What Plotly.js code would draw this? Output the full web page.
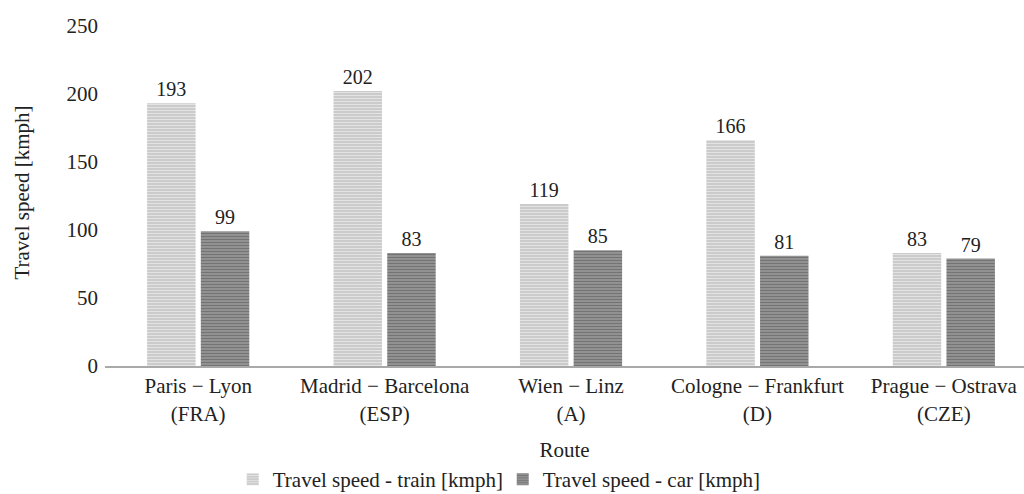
<!DOCTYPE html>
<html>
<head>
<meta charset="utf-8">
<script src="https://cdn.plot.ly/plotly-3.0.1.min.js"></script>
<style>html,body{margin:0;padding:0;background:#fff;}#chart{width:1024px;height:494px;}</style>
</head>
<body>
<div id="chart"></div>
<script>
const routes = ["Paris − Lyon<br>(FRA)", "Madrid − Barcelona<br>(ESP)", "Wien − Linz<br>(A)", "Cologne − Frankfurt<br>(D)", "Prague − Ostrava<br>(CZE)"];
const trainSpeed = [193, 202, 119, 166, 83];
const carSpeed = [99, 83, 85, 81, 79];
const seriesNames = ["Travel speed - train [kmph]", "Travel speed - car [kmph]"];
const yTicks = [0, 50, 100, 150, 200, 250];

const FONT = "'Liberation Serif', 'Times New Roman', serif";
const TXT = "#222";

const traces = [
  {
    type: "bar", x: routes, y: trainSpeed, name: seriesNames[0],
    text: trainSpeed.map(String), textposition: "outside", cliponaxis: false,
    textfont: {family: FONT, size: 20, color: TXT},
    marker: {color: "#c9c9c9", line: {width: 0},
      pattern: {shape: "-", size: 3, solidity: 0.4, fgcolor: "#e3e3e3", bgcolor: "#c9c9c9", fillmode: "replace"}},
    hoverinfo: "none"
  },
  {
    type: "bar", x: routes, y: carSpeed, name: seriesNames[1],
    text: carSpeed.map(String), textposition: "outside", cliponaxis: false,
    textfont: {family: FONT, size: 20, color: TXT},
    marker: {color: "#949494", line: {width: 0},
      pattern: {shape: "-", size: 3, solidity: 0.4, fgcolor: "#747474", bgcolor: "#949494", fillmode: "replace"}},
    hoverinfo: "none"
  }
];

const layout = {
  width: 1024, height: 494,
  margin: {l: 105, r: 0, t: 19, b: 128, pad: 0, autoexpand: false},
  paper_bgcolor: "#fff", plot_bgcolor: "#fff",
  font: {family: FONT, size: 21, color: TXT},
  barmode: "group", bargap: 0.424, bargroupgap: 0.097,
  showlegend: true,
  legend: {orientation: "h", x: 0.139, xanchor: "left", y: -0.268, yanchor: "top",
    font: {family: FONT, size: 21, color: TXT}, itemwidth: 30, tracegroupgap: 0,
    entrywidth: 225, entrywidthmode: "pixels"},
  xaxis: {
    type: "category", range: [-0.5, 4.43], fixedrange: true,
    showline: true, linecolor: "#a9a9a9", linewidth: 2,
    showgrid: false, zeroline: false, ticks: "",
    tickfont: {family: FONT, size: 21, color: TXT},
    title: {text: "Route", font: {family: FONT, size: 21, color: TXT}, standoff: 18},
    automargin: false
  },
  yaxis: {
    range: [0, 255], tickvals: yTicks, ticktext: yTicks.map(String),
    showline: false, showgrid: false, zeroline: false, ticks: "",
    ticklabelstandoff: 6,
    tickfont: {family: FONT, size: 21, color: TXT},
    title: {text: "Travel speed [kmph]", font: {family: FONT, size: 21, color: TXT}, standoff: 31},
    automargin: false
  }
};

Plotly.newPlot("chart", traces, layout, {staticPlot: true, displayModeBar: false});
</script>
</body>
</html>
